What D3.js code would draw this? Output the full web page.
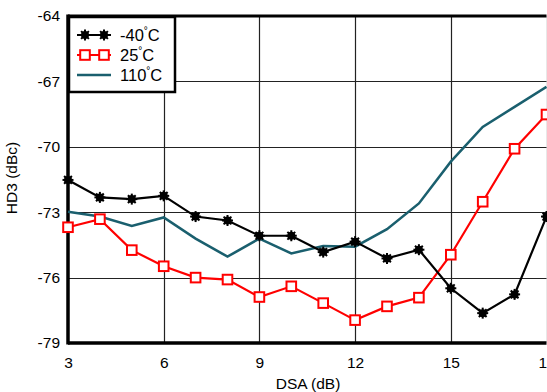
<!DOCTYPE html>
<html><head><meta charset="utf-8">
<script src="https://cdn.jsdelivr.net/npm/d3@7"></script>
<style>body{margin:0;background:#fff}svg{display:block}text{font-family:"Liberation Sans",Arial,sans-serif}</style>
</head><body><svg id="c" width="547" height="392"></svg>
<script>
const dsa = [3,4,5,6,7,8,9,10,11,12,13,14,15,16,17,18];
const hdM40 = [-71.52,-72.32,-72.4,-72.25,-73.2,-73.38,-74.08,-74.08,-74.83,-74.35,-75.12,-74.72,-76.49,-77.63,-76.77,-73.2];
const hd25 = [-73.69,-73.32,-74.74,-75.48,-76.0,-76.09,-76.89,-76.4,-77.17,-77.95,-77.32,-76.92,-74.95,-72.52,-70.09,-68.52];
const hd110 = [-72.98,-73.2,-73.63,-73.24,-74.21,-75.04,-74.21,-74.89,-74.55,-74.58,-73.78,-72.6,-70.68,-69.09,-68.17,-67.25];
const xTicks = [3,6,9,12,15,18];
const yTicks = [-79,-76,-73,-70,-67,-64];
const seriesNames = ["-40", "25", "110"];

const svg = d3.select("#c");
const x = d3.scaleLinear().domain([3,18]).range([68,546.5]);
const y = d3.scaleLinear().domain([-79,-64]).range([343,16]);

// grid
svg.append("g").selectAll("line").data(xTicks.slice(1)).join("line")
  .attr("x1",d=>Math.round(x(d))+0.5).attr("x2",d=>Math.round(x(d))+0.5)
  .attr("y1",y(-64)).attr("y2",y(-79)).attr("stroke","#222").attr("stroke-width",1.2);
svg.append("g").selectAll("line").data(yTicks.slice(1,-1)).join("line")
  .attr("y1",d=>Math.round(y(d))+0.5).attr("y2",d=>Math.round(y(d))+0.5)
  .attr("x1",x(3)).attr("x2",x(18)).attr("stroke","#222").attr("stroke-width",1.2);

// axes
const yAxis = d3.axisLeft(y).tickValues(yTicks).tickSize(0).tickPadding(8).tickFormat(d=>d);
const gy = svg.append("g").attr("transform",`translate(${x(3)},0)`).call(yAxis);
gy.select(".domain").remove();
gy.selectAll("text").attr("font-size",15.5).attr("fill","#000");
const xAxis = d3.axisBottom(x).tickValues(xTicks).tickSize(0).tickPadding(14).tickFormat(d=>d);
const gx = svg.append("g").attr("transform",`translate(0,${y(-79)})`).call(xAxis);
gx.select(".domain").remove();
gx.selectAll("text").attr("font-size",15.5).attr("fill","#000");

// frame
svg.append("line").attr("x1",x(3)).attr("x2",x(3)).attr("y1",y(-64)-1.5).attr("y2",y(-79)+1.5).attr("stroke","#000").attr("stroke-width",3.5);
svg.append("line").attr("x1",x(3)).attr("x2",x(18)).attr("y1",y(-79)).attr("y2",y(-79)).attr("stroke","#000").attr("stroke-width",3.5);
svg.append("line").attr("x1",x(3)).attr("x2",x(18)).attr("y1",y(-64)).attr("y2",y(-64)).attr("stroke","#000").attr("stroke-width",3);

svg.append("text").attr("x",308).attr("y",389).attr("text-anchor","middle").attr("font-size",15.5).text("DSA (dB)");
svg.append("text").attr("transform","translate(17,178) rotate(-90)").attr("text-anchor","middle").attr("font-size",15.5).text("HD3 (dBc)");

const line = d3.line().x((d,i)=>x(dsa[i])).y(d=>y(d));
const plot = svg.append("g");
plot.append("path").datum(hd110).attr("d",line).attr("fill","none").attr("stroke","#1a5f6e").attr("stroke-width",2.5);
plot.append("path").datum(hd25).attr("d",line).attr("fill","none").attr("stroke","#ff0000").attr("stroke-width",2.2);
plot.append("path").datum(hdM40).attr("d",line).attr("fill","none").attr("stroke","#000").attr("stroke-width",2.2);

function starMarker(g, cx, cy){
  const s = g.append("g").attr("transform",`translate(${cx},${cy})`);
  s.append("circle").attr("r",4).attr("fill","#000");
  for(let k=0;k<4;k++){
    const a = k*Math.PI/4;
    s.append("line").attr("x1",-5.5*Math.cos(a)).attr("y1",-5.5*Math.sin(a)).attr("x2",5.5*Math.cos(a)).attr("y2",5.5*Math.sin(a)).attr("stroke","#000").attr("stroke-width",2);
  }
}
function sqMarker(g, cx, cy){
  g.append("rect").attr("x",cx-4.8).attr("y",cy-4.8).attr("width",9.6).attr("height",9.6).attr("fill","#fff").attr("stroke","#ff0000").attr("stroke-width",2);
}
hd25.forEach((d,i)=>sqMarker(plot,x(dsa[i]),y(d)));
hdM40.forEach((d,i)=>starMarker(plot,x(dsa[i]),y(d)));

// legend
const lg = svg.append("g");
lg.append("rect").attr("x",69).attr("y",17).attr("width",106).attr("height",75).attr("fill","#fff").attr("stroke","#000").attr("stroke-width",2.5);
const rows = [35,55,75];
lg.append("line").attr("x1",77).attr("x2",111).attr("y1",rows[0]).attr("y2",rows[0]).attr("stroke","#000").attr("stroke-width",2.2);
starMarker(lg,85,rows[0]); starMarker(lg,104,rows[0]);
lg.append("line").attr("x1",77).attr("x2",111).attr("y1",rows[1]).attr("y2",rows[1]).attr("stroke","#ff0000").attr("stroke-width",2.2);
sqMarker(lg,85,rows[1]); sqMarker(lg,104,rows[1]);
lg.append("line").attr("x1",77).attr("x2",111).attr("y1",rows[2]).attr("y2",rows[2]).attr("stroke","#1a5f6e").attr("stroke-width",2.5);
seriesNames.forEach((n,i)=>{
  const t = lg.append("text").attr("x",120).attr("y",rows[i]+6).attr("font-size",16.5);
  t.append("tspan").text(n);
  t.append("tspan").attr("font-size",10).attr("dy",-7).text("°");
  t.append("tspan").attr("dy",7).text("C");
});
</script></body></html>
